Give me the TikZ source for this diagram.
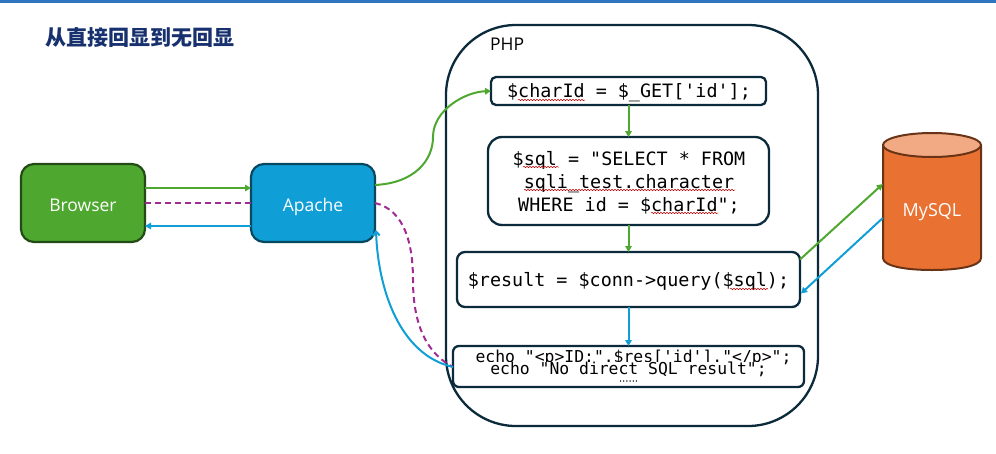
\documentclass[tikz,border=0pt]{standalone}
\usepackage{fontspec}
\setmainfont{Open Sans}
\setmonofont{DejaVu Sans Mono}
\newfontfamily\cjk{Noto Sans CJK SC}
\usetikzlibrary{arrows.meta,calc,decorations.pathmorphing}
\definecolor{cgreen}{HTML}{4EA72E}
\definecolor{cblue}{HTML}{0F9ED5}
\definecolor{corange}{HTML}{E97132}
\definecolor{clight}{HTML}{F2AA84}
\definecolor{cpurple}{HTML}{A02B93}
\definecolor{cdark}{HTML}{0B2A3C}
\definecolor{ctitle}{HTML}{17306E}
\definecolor{cbar}{HTML}{2E75C0}
\tikzset{
  x=1pt,y=-1pt,
  boxnode/.style={draw=cdark,line width=2.3pt,fill=white,inner sep=0pt,outer sep=0pt,anchor=north west},
  appnode/.style={line width=2.2pt,inner sep=0pt,outer sep=0pt,anchor=north west,minimum width=124pt,minimum height=78pt,rounded corners=13pt,text=white,text height=16pt,text depth=0pt,font=\fontsize{17.5}{20}\selectfont},
  codetext/.style={font=\ttfamily\fontsize{18.4}{23.3}\selectfont,align=center,inner sep=0pt,text=black},
  smallcode/.style={font=\ttfamily\fontsize{16.4}{18}\selectfont,inner sep=0pt,text=black},
  flow/.style={line width=2pt,-{Triangle[length=6pt,width=6.5pt]}},
  back/.style={line width=2pt,cblue,-{Triangle[length=6pt,width=6.5pt]}},
  dashline/.style={line width=2pt,cpurple,dash pattern=on 6pt off 4pt},
  squig/.style={red!75!black,line width=0.5pt,decorate,decoration={snake,amplitude=0.7pt,segment length=3pt}},
}
\begin{document}
\begin{tikzpicture}
\useasboundingbox (0,0) rectangle (996,453);
\fill[cbar] (0,0) rectangle (996,3);
\node[anchor=west,inner sep=0pt,text=ctitle,font=\cjk\bfseries\fontsize{21}{24}\selectfont] (title) at (45,37) {从直接回显到无回显};
\node[boxnode,minimum width=372pt,minimum height=401pt,rounded corners=70pt,fill=none] (php) at (446,25) {};
\node[anchor=west,inner sep=0pt,font=\fontsize{17.5}{20}\selectfont] (phplabel) at (490,44) {PHP};
\node[boxnode,minimum width=275pt,minimum height=28pt,rounded corners=5pt] (charid) at (491,77) {};
\node[codetext] (charidt) at (629,93) {\$charId = \$\_GET['id'];};
\node[boxnode,minimum width=281pt,minimum height=88pt,rounded corners=14pt] (sql) at (488,137) {};
\node[codetext] (sqlt) at (629,183) {\$sql = "SELECT * FROM\\sqli\_test.character\\WHERE id = \$charId";};
\node[boxnode,minimum width=343pt,minimum height=55pt,rounded corners=8pt] (result) at (457,252) {};
\node[codetext] (resultt) at (628.5,281) {\$result = \$conn->query(\$sql);};
\node[boxnode,minimum width=351pt,minimum height=41pt,rounded corners=6pt] (echo) at (453,346) {};
\node[smallcode] (echoa) at (633.5,358) {echo "<p>ID:".\$res['id']."</p>";};
\node[fill=white,inner sep=0pt,minimum width=282pt,minimum height=13pt,anchor=north] (mask) at (631,362) {};
\node[smallcode] (echob) at (628.5,369) {echo "No direct SQL result";};
\node[inner sep=0pt,font=\ttfamily\bfseries\fontsize{5.3}{6}\selectfont\addfontfeature{FakeBold=3}] (dots) at (628.5,381) {......};
\draw[squig] (518,100) -- (585,100);
\draw[squig] (523,167) -- (559,167);
\draw[squig] (524,190) -- (735,190);
\draw[squig] (651,213) -- (718,213);
\draw[squig] (730,289) -- (768,289);
\node[appnode,draw=cgreen!45!black,fill=cgreen] (browser) at (21,164) {Browser};
\node[appnode,draw=cblue!45!black,fill=cblue] (apache) at (251,164) {Apache};
\fill[corange] (883,145) -- (883,258) arc[start angle=180,end angle=360,x radius=49,y radius=-12] -- (981,145) -- cycle;
\draw[line width=2pt,draw=corange!45!black] (883,145) -- (883,258) .. controls (883,266) and (905,270) .. (932,270) .. controls (959,270) and (981,266) .. (981,258) -- (981,145);
\draw[line width=2pt,draw=corange!45!black,fill=clight] (932,145) ellipse[x radius=49,y radius=12];
\node[inner sep=0pt,minimum width=98pt,minimum height=100pt,text=white,text height=14pt,text depth=0pt,font=\fontsize{18}{20}\selectfont] (mysql) at (932,209) {MySQL};
\draw[flow,cgreen] ($(browser.east)+(0,-15)$) -- ($(apache.west)+(0,-15)$);
\draw[dashline] (browser.east) -- (apache.west);
\draw[back] ($(apache.west)+(0,23)$) -- ($(browser.east)+(0,23)$);
\draw[line width=2pt,cgreen,-{Triangle[length=6pt,width=6.5pt]}] ($(apache.east)+(0,-18)$) .. controls (415,183) and (433,160) .. (433,137) .. controls (433,110) and (465,92) .. (charid.west);
\draw[dashline] (apache.east) .. controls (405,210) and (413,245) .. (413,280) .. controls (413,330) and (430,355) .. ($(echo.west)+(0,0.5)$);
\draw[line width=2pt,cblue,-{Straight Barb[length=4pt,width=7pt]}] ($(echo.west)+(0,0.5)$) .. controls (400,355) and (378,290) .. ($(apache.east)+(1,27)$);
\draw[flow,cgreen] (charid.south -| sql.north) -- (sql.north);
\draw[flow,cgreen] (sql.south) -- (sql.south |- result.north);
\draw[back] (sql.south |- result.south) -- (sql.south |- echo.north);
\draw[flow,cgreen] ($(result.east)+(0,-20)$) -- ($(mysql.west)+(0,-25)$);
\draw[back] ($(mysql.west)+(0,9)$) -- ($(result.east)+(1,14)$);
\end{tikzpicture}
\end{document}
